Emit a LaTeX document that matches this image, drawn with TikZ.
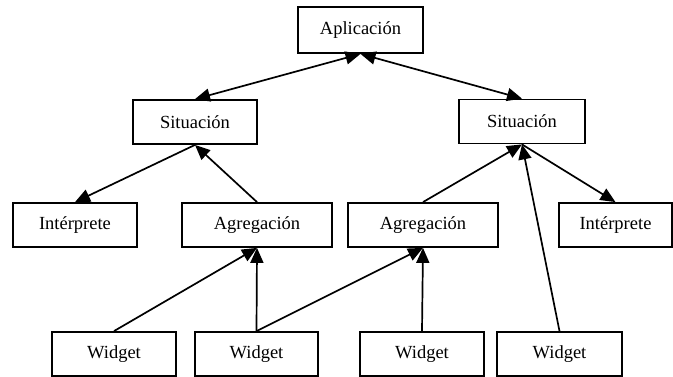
\documentclass[tikz,border=0pt]{standalone}
\usepackage{fontspec}
\setmainfont{Liberation Serif}
\usetikzlibrary{arrows.meta}
\begin{document}
\begin{tikzpicture}[x=1pt,y=-1pt,
  box/.style={draw, line width=1.8pt, minimum height=44pt, inner sep=0pt,
    font=\fontsize{18.5}{20}\selectfont},
  link/.style={line width=1.7pt, -{Triangle[length=15pt,width=13pt]}},
  twoway/.style={line width=1.7pt,
    {Triangle[length=15pt,width=13pt]}-{Triangle[length=15pt,width=13pt]}}]
\useasboundingbox (0,0) rectangle (673,377);

% top level
\node[box, minimum width=125pt, minimum height=46pt] (apl) at (360.5,30) {Aplicación};

% situations
\node[box, minimum width=124pt] (sitL) at (195,122) {Situación};
\node[box, minimum width=126pt] (sitR) at (522,121.5) {Situación};

% interpreters and aggregators
\node[box, minimum width=124pt] (intL) at (75,225) {Intérprete};
\node[box, minimum width=150pt] (agrL) at (257,225) {Agregación};
\node[box, minimum width=150pt] (agrR) at (423,225) {Agregación};
\node[box, minimum width=113pt] (intR) at (615.5,225) {Intérprete};

% widgets
\node[box, minimum width=124pt] (w1) at (114,354) {Widget};
\node[box, minimum width=123pt] (w2) at (256.5,354) {Widget};
\node[box, minimum width=124pt] (w3) at (422,354) {Widget};
\node[box, minimum width=125pt] (w4) at (559.5,354) {Widget};

% connections
\draw[twoway] (sitL.north) -- (apl.south);
\draw[twoway] (sitR.north) -- (apl.south);
\draw[link] (sitL.south) -- (intL.north);
\draw[link] (agrL.north) -- (sitL.south);
\draw[link] (agrR.north) -- (sitR.south);
\draw[link] (sitR.south) -- (intR.north);
\draw[link] (w4.north) -- (sitR.south);
\draw[link] (w1.north) -- (agrL.south);
\draw[link] (w2.north) -- (agrL.south);
\draw[link] (w2.north) -- (agrR.south);
\draw[link] (w3.north) -- (agrR.south);
\end{tikzpicture}
\end{document}
